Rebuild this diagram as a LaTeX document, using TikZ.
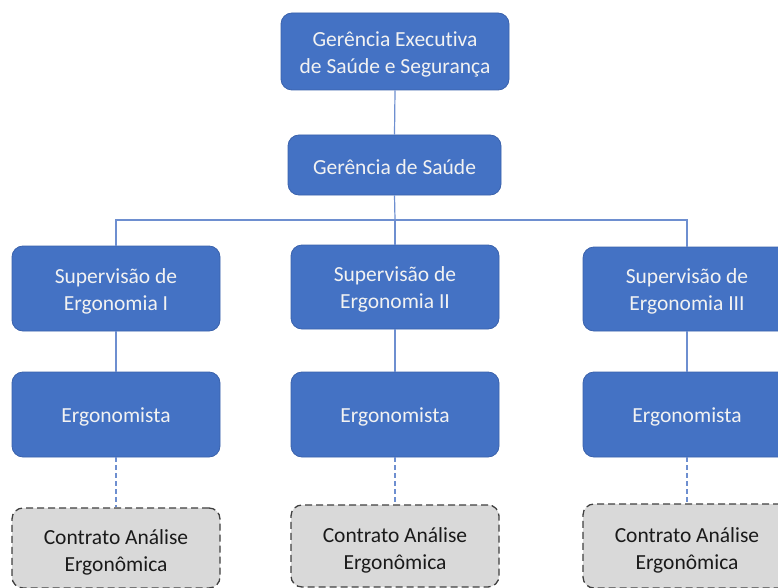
\documentclass[tikz,border=0pt]{standalone}
\usepackage{fontspec}
\setmainfont[Ligatures=NoCommon]{Carlito}
\definecolor{boxblue}{HTML}{4472C4}
\definecolor{boxedge}{HTML}{3A62AC}
\definecolor{linkblue}{HTML}{6E8FD0}
\definecolor{boxtext}{HTML}{F2F2F2}
\definecolor{grayfill}{HTML}{D9D9D9}
\definecolor{grayedge}{HTML}{404040}
\definecolor{darktext}{HTML}{1A1A1A}
\tikzset{
  orgbox/.style={draw=boxedge, line width=0.8pt, fill=boxblue, rounded corners=11pt,
    inner sep=0pt},
  orgtext/.style={text=boxtext, align=center, inner sep=0pt, yshift=-2.5pt,
    font=\fontsize{21.5}{27}\selectfont},
  contractbox/.style={draw=grayedge, line width=1.3pt, dash pattern=on 7pt off 4pt,
    fill=grayfill, rounded corners=11pt, inner sep=0pt},
  contracttext/.style={text=darktext, align=center, inner sep=0pt, yshift=-4.5pt,
    font=\fontsize{21.5}{27}\selectfont},
  link/.style={draw=linkblue, line width=1.2pt},
  dashlink/.style={draw=linkblue, line width=1.2pt, dash pattern=on 5pt off 3pt}
}
\begin{document}
\begin{tikzpicture}[x=1pt,y=-1pt]
\useasboundingbox (0,0) rectangle (778,588);
\clip (0,0) rectangle (778,588);
\fill[white] (0,0) rectangle (778,588);

\node[orgbox, minimum width=228pt, minimum height=77pt, label={[orgtext]center:{Gerência Executiva\\de Saúde e Segurança}}] (exec) at (395,51.5) {};
\node[orgbox, minimum width=213pt, minimum height=60pt, label={[orgtext]center:{Gerência de Saúde}}] (gs) at (394.5,165) {};

\node[orgbox, minimum width=208pt, minimum height=85pt, label={[orgtext]center:{Supervisão de\\Ergonomia I}}] (sup1) at (116,288.5) {};
\node[orgbox, minimum width=208pt, minimum height=84pt, label={[orgtext]center:{Supervisão de\\Ergonomia II}}] (sup2) at (395,287) {};
\node[orgbox, minimum width=208pt, minimum height=84pt, label={[orgtext]center:{Supervisão de\\Ergonomia III}}] (sup3) at (687,289) {};

\node[orgbox, minimum width=208pt, minimum height=85pt, label={[orgtext]center:{Ergonomista}}] (erg1) at (116,414.5) {};
\node[orgbox, minimum width=208pt, minimum height=85pt, label={[orgtext]center:{Ergonomista}}] (erg2) at (395,414.5) {};
\node[orgbox, minimum width=208pt, minimum height=85pt, label={[orgtext]center:{Ergonomista}}] (erg3) at (687,414.5) {};

\node[contractbox, minimum width=208pt, minimum height=80pt, label={[contracttext]center:{Contrato Análise\\Ergonômica}}] (c1) at (116,548) {};
\node[contractbox, minimum width=208pt, minimum height=82pt, label={[contracttext]center:{Contrato Análise\\Ergonômica}}] (c2) at (395,546) {};
\node[contractbox, minimum width=208pt, minimum height=84pt, label={[contracttext]center:{Contrato Análise\\Ergonômica}}] (c3) at (687,546) {};

\coordinate (bar) at (395,220);
\draw[link] (exec.south) -- (gs.north);
\draw[link] (gs.south) -- (bar);
\draw[link] (sup1.north) |- (bar) -| (sup3.north);
\draw[link] (bar) -- (sup2.north);
\draw[link] (sup1.south) -- (erg1.north);
\draw[link] (sup2.south) -- (erg2.north);
\draw[link] (sup3.south) -- (erg3.north);
\draw[dashlink] (erg1.south) -- (c1.north);
\draw[dashlink] (erg2.south) -- (c2.north);
\draw[dashlink] (erg3.south) -- (c3.north);
\end{tikzpicture}
\end{document}
